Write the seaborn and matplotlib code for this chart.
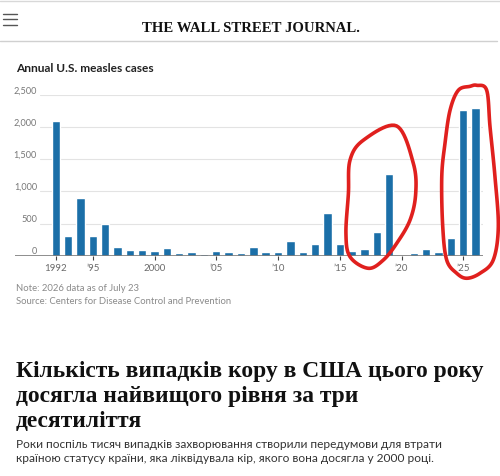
import matplotlib
matplotlib.use("Agg")
import matplotlib.pyplot as plt
from matplotlib.patches import Polygon
from matplotlib.lines import Line2D
from matplotlib.transforms import blended_transform_factory, offset_copy
import seaborn as sns
import pandas as pd
import numpy as np

# ---- data ----
years = list(range(1992, 2027))
cases = [2100, 306, 891, 306, 492, 140, 93, 93, 78, 114,
         47, 52, 31, 67, 57, 47, 135, 62, 52, 223,
         52, 187, 658, 187, 73, 109, 373, 1264, 10, 41,
         109, 52, 275, 2264, 2295]
tick_years = [1992, 1995, 2000, 2005, 2010, 2015, 2020, 2025]
tick_labels = ["1992", "\u201995", "2000", "\u201905", "\u201910", "\u201915", "\u201920", "\u201925"]
y_ticks = [0, 500, 1000, 1500, 2000, 2500]
y_tick_labels = ["0", "500", "1,000", "1,500", "2,000", "2,500"]

title = "Annual U.S. measles cases"
note = "Note: 2026 data as of July 23"
source = "Source: Centers for Disease Control and Prevention"
headline = ["Кількість випадків кору в США цього року",
            "досягла найвищого рівня за три",
            "десятиліття"]
subtitle = ["Роки поспіль тисяч випадків захворювання створили передумови для втрати",
            "країною статусу країни, яка ліквідувала кір, якого вона досягла у 2000 році."]

df = pd.DataFrame({"year": years, "cases": cases})

sns.set_theme(style="white")
SANS = ["Liberation Sans Narrow", "Lato", "DejaVu Sans"]
plt.rcParams["font.family"] = SANS

W, H = 500, 476
fig = plt.figure(figsize=(W / 100, H / 100), dpi=100)

def fx(x):
    return x / W

def fy(y):
    return 1 - y / H

# axes placement (pixels): x 15..483, y 95 (2500) .. 255.7 (0)
ax = fig.add_axes([fx(15), fy(255.7), (483 - 15) / W, (255.7 - 95) / H])

sns.barplot(data=df, x="year", y="cases", order=years, color="#1b6fa8",
            width=0.68, saturation=1, ax=ax, zorder=3)

ax.set_xlim(-3.3, len(years) - 1 + 0.6)
ax.set_ylim(0, 2500)
for s in ax.spines.values():
    s.set_visible(False)
ax.set_xlabel("")
ax.set_ylabel("")
ax.set_yticks([])

# gridlines and baseline
for v in y_ticks[1:]:
    ax.axhline(v, xmin=0.053, xmax=1, color="#e3e3e3", lw=0.8, zorder=1)
ax.axhline(0, xmin=0, xmax=1, color="#7a7a7a", lw=1.2, zorder=4)

# y labels inside, above gridlines
trans = blended_transform_factory(ax.transAxes, ax.transData)
trans = offset_copy(trans, fig=fig, x=0, y=1.2, units="points")
for v, lab in zip(y_ticks, y_tick_labels):
    ax.text(0.047, v, lab, transform=trans, ha="right", va="baseline",
            fontsize=6.6, color="#777777")

# x ticks
pos = [years.index(y) for y in tick_years]
ax.set_xticks(pos)
ax.set_xticklabels(tick_labels)
ax.tick_params(axis="x", length=3, width=0.8, color="#444444", pad=3,
               labelsize=7, labelcolor="#6a6a6a", bottom=True, direction="out")

# red hand-drawn highlights (data coordinates: bar index, cases)
loop1 = [(27.6, 2019), (28.96, 1435), (29.15, 969), (28.69, 554), (27.61, 192),
         (26.53, -67), (25.31, -196), (23.83, -16), (23.5, 348), (23.7, 969),
         (23.83, 1486), (24.91, 1797)]
loop2 = [(34.09, 2651), (34.9, 2573), (35.17, 2003), (35.57, 1227), (35.84, 450),
         (35.43, -67), (34.36, -273), (33.28, -351), (32.47, -273), (31.66, -67),
         (31.34, 450), (31.26, 1227), (31.52, 1745), (31.93, 2262), (32.6, 2573),
         (33.55, 2635)]

def smooth_closed(pts, n=12):
    p = np.array(pts, dtype=float)
    out = []
    m = len(p)
    for i in range(m):
        p0, p1, p2, p3 = p[i - 1], p[i], p[(i + 1) % m], p[(i + 2) % m]
        for t in np.linspace(0, 1, n, endpoint=False):
            t2, t3 = t * t, t * t * t
            out.append(0.5 * ((2 * p1) + (-p0 + p2) * t +
                              (2 * p0 - 5 * p1 + 4 * p2 - p3) * t2 +
                              (-p0 + 3 * p1 - 3 * p2 + p3) * t3))
    return np.array(out)

for pts in (loop1, loop2):
    ax.add_patch(Polygon(smooth_closed(pts), closed=True, fill=False, edgecolor="#e0201e",
                         lw=2.6, joinstyle="round", clip_on=False, zorder=6))

# ---- page chrome ----
fig.add_artist(Line2D([0, 1], [fy(1), fy(1)], color="#d8d8d8", lw=1))
fig.add_artist(Line2D([0, fx(497)], [fy(41), fy(41)], color="#d0d0d0", lw=1))
for yy in (14, 19.3, 24.7):
    fig.add_artist(Line2D([fx(3), fx(17)], [fy(yy), fy(yy)], color="#555555", lw=1))

fig.text(0.502, fy(31.5), "THE WALL STREET JOURNAL.", ha="center", va="baseline",
         fontsize=10.6, fontweight="bold", family=["Liberation Serif", "DejaVu Serif"],
         color="#111111")

fig.text(fx(16), fy(72.5), title, ha="left", va="baseline", fontsize=8.6,
         fontweight="bold", color="#222222")

fig.text(fx(16), fy(290.7), note, ha="left", va="baseline", fontsize=6.8, color="#8a8a8a")
fig.text(fx(16), fy(304.2), source, ha="left", va="baseline", fontsize=6.8, color="#8a8a8a")

for i, line in enumerate(headline):
    fig.text(fx(16), fy(377 + i * 25), line, ha="left", va="baseline", fontsize=16.9,
             fontweight="bold", family=["Liberation Serif", "DejaVu Serif"], color="#111111")

for i, line in enumerate(subtitle):
    fig.text(fx(16), fy(448 + i * 13.6), line, ha="left", va="baseline", fontsize=8.6,
             family=["Lato", "DejaVu Sans"], color="#333333")

fig.savefig("out.png", dpi=100, facecolor="white")
